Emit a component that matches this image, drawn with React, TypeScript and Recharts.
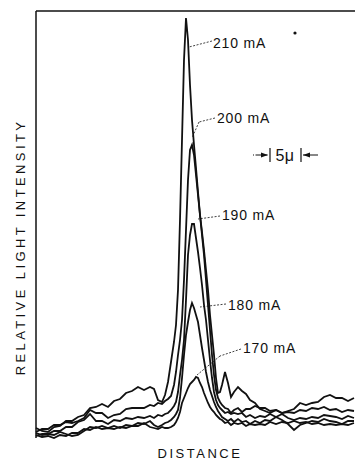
import React from 'react';
import { LineChart, Line, XAxis, YAxis, ReferenceLine, ReferenceDot } from 'recharts';

// distance along the stripe (arbitrary units, left edge of the frame = 0)
const distance = [
  0, 6, 12, 18, 24, 30, 36, 42, 48, 54, 60, 66, 72, 78, 84, 90, 96, 102, 108, 114, 118, 122, 126,
  129, 132, 135, 138, 140, 142, 144, 146, 148, 150, 152, 154, 156, 158, 160, 162, 164, 166, 168, 170, 172, 174, 176, 178, 180, 182, 184,
  186, 189, 192, 195, 198, 202, 206, 210, 214, 219, 224, 229, 234, 240, 246, 252, 258, 264, 270, 276, 282, 288, 294, 300, 306, 312, 318,
];

// relative light intensity for each drive current
const i210 = [
  10, 7, 6, 11, 12, 17, 17, 21, 23, 30, 31, 34, 31, 37, 39, 45, 47, 51, 48, 51, 49, 38, 36,
  43, 56, 76, 96, 113, 148, 218, 298, 378, 420, 398, 353, 318, 293, 270, 246, 223, 206, 188, 168, 148, 123, 103, 83, 60, 45, 46,
  53, 66, 55, 41, 46, 51, 47, 44, 38, 35, 29, 27, 25, 28, 25, 27, 29, 35, 33, 35, 36, 41, 43, 40, 40, 37, 40,
];
const i200 = [
  6, 9, 9, 13, 13, 16, 15, 17, 20, 28, 25, 25, 20, 23, 24, 29, 30, 30, 30, 33, 32, 35, 34,
  37, 39, 42, 53, 66, 83, 98, 118, 158, 208, 258, 288, 293, 283, 263, 243, 223, 203, 183, 158, 133, 108, 83, 63, 48, 40, 36,
  33, 30, 29, 25, 28, 30, 26, 29, 29, 32, 30, 30, 27, 28, 25, 26, 25, 28, 27, 30, 29, 31, 28, 29, 26, 28, 27,
];
const i190 = [
  2, 4, 4, 7, 7, 11, 11, 16, 18, 24, 17, 17, 14, 18, 17, 20, 19, 21, 20, 22, 20, 23, 22,
  24, 25, 28, 32, 36, 46, 63, 78, 98, 138, 183, 203, 214, 214, 200, 186, 170, 153, 133, 118, 98, 78, 60, 46, 38, 33, 30,
  28, 25, 26, 24, 25, 24, 25, 21, 23, 20, 22, 21, 24, 21, 24, 20, 18, 20, 19, 21, 20, 23, 22, 21, 19, 22, 20,
];
const i180 = [
  5, 3, 4, 3, 6, 4, 2, 3, 7, 11, 10, 12, 10, 12, 10, 13, 12, 15, 14, 17, 13, 11, 13,
  15, 16, 18, 21, 24, 28, 40, 60, 83, 103, 116, 128, 135, 130, 123, 116, 103, 90, 78, 66, 56, 48, 42, 36, 31, 27, 24,
  21, 19, 17, 19, 16, 19, 16, 17, 14, 17, 15, 18, 17, 21, 18, 14, 8, 13, 15, 17, 16, 19, 17, 16, 14, 17, 17,
];
const i170 = [
  3, 1, 2, 0, 3, 2, 5, 5, 9, 8, 11, 9, 10, 9, 11, 10, 12, 12, 15, 11, 10, 9, 11,
  10, 10, 11, 13, 16, 20, 26, 35, 40, 45, 50, 54, 56, 58, 61, 60, 55, 51, 45, 40, 35, 31, 28, 26, 23, 21, 19,
  18, 15, 16, 13, 15, 14, 15, 12, 14, 13, 14, 13, 16, 14, 16, 15, 17, 15, 16, 14, 15, 13, 14, 13, 14, 13, 15,
];

const seriesKeys = ['c210', 'c200', 'c190', 'c180', 'c170'];

const data = distance.map((x, i) => ({
  x,
  c210: i210[i],
  c200: i200[i],
  c190: i190[i],
  c180: i180[i],
  c170: i170[i],
}));

const FONT = '"Liberation Sans", Arial, Helvetica, sans-serif';
const INK = '#111';

// label text anchors and their leader lines
const callouts = [
  { text: '210 mA', at: [177, 395], leader: [[176, 397], [153, 391]] },
  { text: '200 mA', at: [181, 320], leader: [[179, 320], [163, 316], [156, 300]] },
  { text: '190 mA', at: [186, 223], leader: [[184, 222], [162, 219]] },
  { text: '180 mA', at: [192, 133], leader: [[190, 134], [164, 131]] },
  { text: '170 mA', at: [207, 90], leader: [[205, 89], [184, 82], [161, 63]] },
];

const leaderSegments = callouts.flatMap((c) =>
  c.leader.slice(1).map((p, i) => ({
    key: `${c.text}-${i}`,
    seg: [
      { x: c.leader[i][0], y: c.leader[i][1] },
      { x: p[0], y: p[1] },
    ],
  }))
);

const textShape = (text: string, size: number, anchor: string, spacing: number) => (p: any) => (
  <text
    x={p.cx}
    y={p.cy}
    dy="0.36em"
    fontSize={size}
    fontFamily={FONT}
    fill={INK}
    textAnchor={anchor}
    letterSpacing={spacing}
  >
    {text}
  </text>
);

const arrowShape = (dir: number) => (p: any) => (
  <polygon
    points={`${p.cx},${p.cy} ${p.cx - dir * 7},${p.cy - 2.5} ${p.cx - dir * 7},${p.cy + 2.5}`}
    fill={INK}
  />
);

const dotShape = (p: any) => <circle cx={p.cx} cy={p.cy} r={1.6} fill={INK} />;

export default function App() {
  return (
    <div style={{ position: 'absolute', left: 0, top: 0, width: 355, height: 460, background: '#fff' }}>
      <LineChart width={355} height={460} data={data} margin={{ top: 11, right: 0, bottom: 22, left: 36 }}>
        <XAxis
          dataKey="x"
          type="number"
          domain={[0, 319]}
          height={0}
          tick={false}
          tickLine={false}
          axisLine={{ stroke: INK, strokeWidth: 2 }}
        />
        <YAxis type="number" domain={[0, 427]} width={0} tick={false} tickLine={false} axisLine={false} />
        <ReferenceLine y={427} stroke={INK} strokeWidth={1.5} />
        <ReferenceLine x={0} stroke={INK} strokeWidth={1.5} />

        {seriesKeys.map((k) => (
          <Line
            key={k}
            dataKey={k}
            type="linear"
            stroke={INK}
            strokeWidth={1.8}
            dot={false}
            activeDot={false}
            isAnimationActive={false}
          />
        ))}

        {leaderSegments.map((s) => (
          <ReferenceLine key={s.key} segment={s.seg} stroke={INK} strokeWidth={0.8} strokeDasharray="2 1.5" />
        ))}
        {callouts.map((c) => (
          <ReferenceDot
            key={c.text}
            x={c.at[0]}
            y={c.at[1]}
            r={0}
            shape={textShape(c.text, 14, 'start', 0.8)}
          />
        ))}

        {/* 5 micron scale marker */}
        <ReferenceLine segment={[{ x: 217, y: 283 }, { x: 232, y: 283 }]} stroke={INK} strokeWidth={1} strokeDasharray="1 1.5 12" />
        <ReferenceDot x={232} y={283} r={0} shape={arrowShape(1)} />
        <ReferenceLine segment={[{ x: 234, y: 290 }, { x: 234, y: 276 }]} stroke={INK} strokeWidth={1.2} />
        <ReferenceDot x={249} y={283} r={0} shape={textShape('5\u03bc', 16, 'middle', 0.5)} />
        <ReferenceLine segment={[{ x: 265, y: 290 }, { x: 265, y: 276 }]} stroke={INK} strokeWidth={1.2} />
        <ReferenceLine segment={[{ x: 267, y: 283 }, { x: 282, y: 283 }]} stroke={INK} strokeWidth={1} />
        <ReferenceDot x={267} y={283} r={0} shape={arrowShape(-1)} />

        <ReferenceDot x={259} y={405} r={0} shape={dotShape} />
      </LineChart>

      {/* axis titles */}
      <svg width={355} height={460} style={{ position: 'absolute', left: 0, top: 0, pointerEvents: 'none' }}>
        <text
          x={20}
          y={247}
          transform="rotate(-90 20 247)"
          textAnchor="middle"
          dominantBaseline="central"
          fontSize={13}
          fontFamily={FONT}
          fill={INK}
          letterSpacing={3.4}
        >
          RELATIVE LIGHT INTENSITY
        </text>
        <text
          x={200}
          y={453}
          textAnchor="middle"
          dominantBaseline="central"
          fontSize={13}
          fontFamily={FONT}
          fill={INK}
          letterSpacing={2.5}
        >
          DISTANCE
        </text>
      </svg>
    </div>
  );
}
